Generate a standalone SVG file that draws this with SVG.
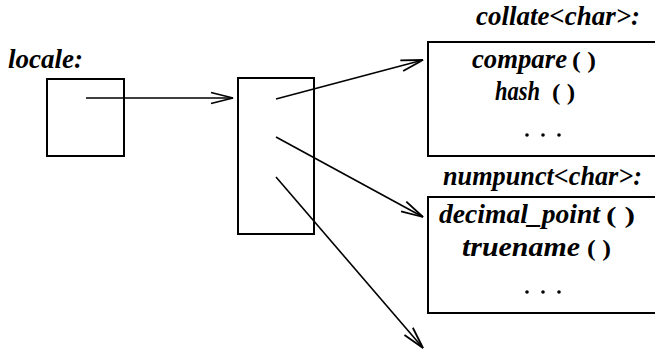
<svg xmlns="http://www.w3.org/2000/svg" width="655" height="350" viewBox="0 0 655 350">
<style>
.box{fill:none;stroke:#000;stroke-width:2}
.t{font-family:"Liberation Serif","Times New Roman",serif;font-weight:700;font-style:italic;font-size:27px;fill:#000}
.p{font-family:"Liberation Serif","Times New Roman",serif;font-weight:700;font-size:24px;fill:#000}
.c{fill:none;stroke:#000;stroke-width:1.6}
.dot{fill:#000}
</style>
<defs>
<marker id="ah" markerUnits="userSpaceOnUse" markerWidth="26" markerHeight="14" refX="24" refY="7" orient="auto" viewBox="0 0 26 14">
<path d="M2,1.5 L24,7 L2,12.5" fill="none" stroke="#000" stroke-width="1.8"/>
</marker>
</defs>
<rect width="655" height="350" fill="#fff"/>
<g id="locale">
<text class="t" x="8" y="68" textLength="75" lengthAdjust="spacingAndGlyphs">locale:</text>
<rect class="box" x="47" y="79" width="77" height="77"/>
</g>
<g id="facets">
<rect class="box" x="238" y="78" width="76" height="156"/>
</g>
<g id="collate">
<text class="t" x="476" y="25" textLength="164" lengthAdjust="spacingAndGlyphs">collate&lt;char&gt;:</text>
<rect class="box" x="428" y="42" width="240" height="114"/>
<text class="t" x="472" y="68" textLength="95" lengthAdjust="spacingAndGlyphs">compare</text>
<text class="p" x="572" y="68" textLength="24" lengthAdjust="spacingAndGlyphs">( )</text>
<text class="t" x="495" y="100" textLength="45" lengthAdjust="spacingAndGlyphs">hash</text>
<text class="p" x="552" y="100" textLength="23" lengthAdjust="spacingAndGlyphs">( )</text>
<circle class="dot" cx="527" cy="135" r="1.8"/>
<circle class="dot" cx="543" cy="135" r="1.8"/>
<circle class="dot" cx="559" cy="135" r="1.8"/>
</g>
<g id="numpunct">
<text class="t" x="443" y="185" textLength="199" lengthAdjust="spacingAndGlyphs">numpunct&lt;char&gt;:</text>
<rect class="box" x="428" y="197" width="240" height="116"/>
<text class="t" x="439" y="223" textLength="161" lengthAdjust="spacingAndGlyphs">decimal_point</text>
<text class="p" x="606" y="223" textLength="29" lengthAdjust="spacingAndGlyphs">( )</text>
<text class="t" x="462" y="256" textLength="118" lengthAdjust="spacingAndGlyphs">truename</text>
<text class="p" x="587" y="256" textLength="24" lengthAdjust="spacingAndGlyphs">( )</text>
<circle class="dot" cx="527" cy="292" r="1.8"/>
<circle class="dot" cx="543" cy="292" r="1.8"/>
<circle class="dot" cx="559" cy="292" r="1.8"/>
</g>
<g id="connectors">
<line class="c" x1="86" y1="98" x2="233" y2="98" marker-end="url(#ah)"/>
<line class="c" x1="276" y1="99" x2="423" y2="60" marker-end="url(#ah)"/>
<line class="c" x1="276" y1="137" x2="423" y2="217" marker-end="url(#ah)"/>
<line class="c" x1="276" y1="177" x2="423" y2="348" marker-end="url(#ah)"/>
</g>
</svg>
